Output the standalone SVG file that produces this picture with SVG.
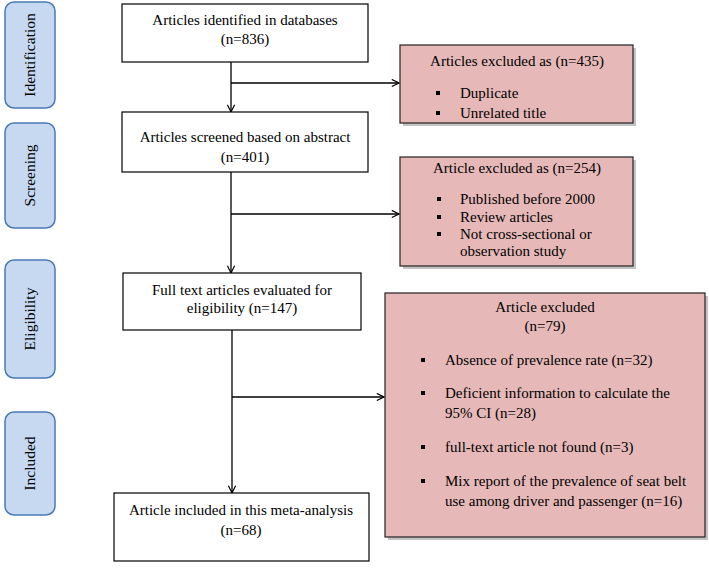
<svg xmlns="http://www.w3.org/2000/svg" width="709" height="568" viewBox="0 0 709 568">
<defs>
<style>
text{font-family:"Liberation Serif","Times New Roman",serif;font-size:15px;fill:#000}
.c{text-anchor:middle}
.phase rect{fill:#c6d9f1;stroke:#4a7ab5;stroke-width:1.5}
.phase text{font-size:15.5px}
.box{fill:#fff;stroke:#000;stroke-width:1.2}
.ex{fill:#e6b9b8;stroke:#222;stroke-width:1.2}
.sh{fill:#888;opacity:0.5}
.line{stroke:#000;stroke-width:1.3;fill:none}
</style>
<marker id="arr" viewBox="0 0 10 10" refX="9" refY="5" markerWidth="9" markerHeight="9" orient="auto" markerUnits="userSpaceOnUse">
<path d="M1,1 L9,5 L1,9" fill="none" stroke="#000" stroke-width="1.3"/>
</marker>
</defs>
<rect width="709" height="568" fill="#fff"/>

<g id="phase-identification" class="phase"><rect x="5" y="2" width="50" height="106" rx="9"/><text class="c" transform="translate(35,55) rotate(-90)">Identification</text></g>
<g id="phase-screening" class="phase"><rect x="5" y="123" width="50" height="105" rx="9"/><text class="c" transform="translate(35,175.5) rotate(-90)">Screening</text></g>
<g id="phase-eligibility" class="phase"><rect x="5" y="260" width="50" height="118" rx="9"/><text class="c" transform="translate(35,319) rotate(-90)">Eligibility</text></g>
<g id="phase-included" class="phase"><rect x="5" y="412" width="50" height="103" rx="9"/><text class="c" transform="translate(35,463.5) rotate(-90)">Included</text></g>

<g id="connectors">
<line class="line" x1="231" y1="62" x2="231" y2="112" marker-end="url(#arr)"/>
<line class="line" x1="231" y1="83" x2="399" y2="83" marker-end="url(#arr)"/>
<line class="line" x1="231" y1="172" x2="231" y2="273" marker-end="url(#arr)"/>
<line class="line" x1="231" y1="214" x2="399" y2="214" marker-end="url(#arr)"/>
<line class="line" x1="232" y1="330" x2="232" y2="493" marker-end="url(#arr)"/>
<line class="line" x1="232" y1="397" x2="384" y2="397" marker-end="url(#arr)"/>
</g>

<g id="identified"><rect class="box" x="122" y="4" width="246" height="58"/><text class="c" x="245" y="25">Articles identified in databases</text><text class="c" x="245" y="44">(n=836)</text></g>

<g id="excluded-435"><rect class="sh" x="403" y="48" width="233" height="78"/><rect class="ex" x="400" y="45" width="233" height="78"/><text class="c" x="517" y="66">Articles excluded as (n=435)</text>
<rect x="436" y="91" width="4" height="4"/><text x="460" y="98">Duplicate</text>
<rect x="436" y="111" width="4" height="4"/><text x="460" y="118">Unrelated title</text></g>

<g id="screened"><rect class="box" x="122" y="112" width="246" height="60"/><text class="c" x="245" y="142">Articles screened based on abstract</text><text class="c" x="245" y="162">(n=401)</text></g>

<g id="excluded-254"><rect class="sh" x="403" y="160" width="233" height="109"/><rect class="ex" x="400" y="157" width="233" height="109"/><text class="c" x="517" y="173">Article excluded as (n=254)</text>
<rect x="437" y="197" width="4" height="4"/><text x="460" y="204">Published before 2000</text>
<rect x="437" y="215" width="4" height="4"/><text x="460" y="222">Review articles</text>
<rect x="437" y="232" width="4" height="4"/><text x="460" y="239">Not cross-sectional or</text>
<text x="460" y="256">observation study</text></g>

<g id="eligibility"><rect class="box" x="123" y="273" width="238" height="57"/><text class="c" x="242" y="295">Full text articles evaluated for</text><text class="c" x="242" y="313">eligibility (n=147)</text></g>

<g id="excluded-79"><rect class="sh" x="388" y="296" width="320" height="244"/><rect class="ex" x="385" y="293" width="320" height="244"/><text class="c" x="545" y="312">Article excluded</text><text class="c" x="545" y="331">(n=79)</text>
<rect x="421" y="358" width="4" height="4"/><text x="445" y="365">Absence of prevalence rate (n=32)</text>
<rect x="421" y="391" width="4" height="4"/><text x="445" y="398">Deficient information to calculate the</text>
<text x="445" y="418">95% CI (n=28)</text>
<rect x="421" y="445" width="4" height="4"/><text x="445" y="452">full-text article not found (n=3)</text>
<rect x="421" y="479" width="4" height="4"/><text x="445" y="486">Mix report of the prevalence of seat belt</text>
<text x="445" y="506">use among driver and passenger (n=16)</text></g>

<g id="included"><rect class="box" x="114" y="493" width="255" height="68"/><text class="c" x="241" y="515">Article included in this meta-analysis</text><text class="c" x="241" y="535">(n=68)</text></g>
</svg>
